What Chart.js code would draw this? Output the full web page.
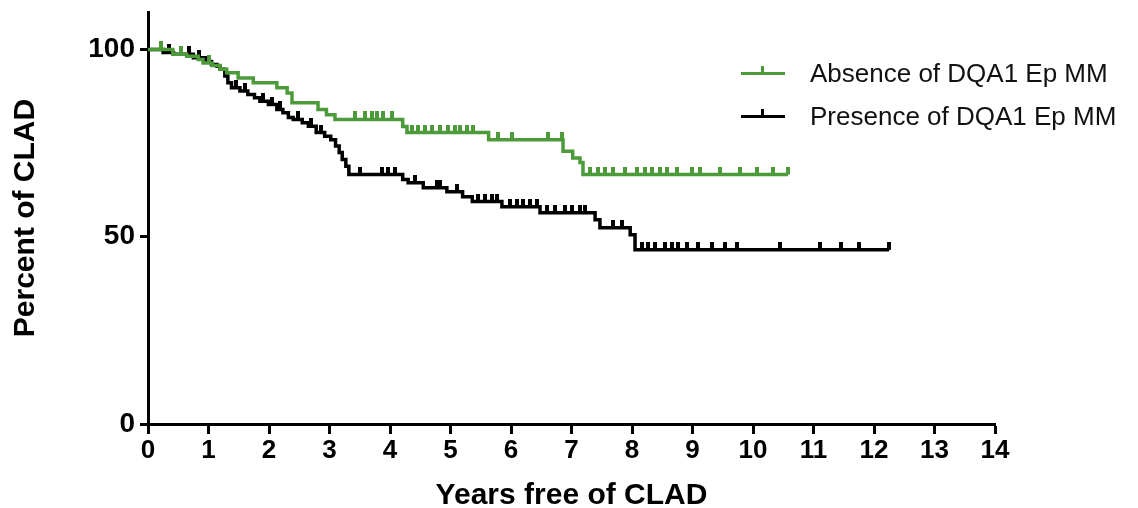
<!DOCTYPE html>
<html><head><meta charset="utf-8">
<script src="https://cdn.jsdelivr.net/npm/chart.js@4.4.1/dist/chart.umd.min.js"></script>
<style>
html,body{margin:0;padding:0;background:#fff;}
#wrap{position:relative;width:1138px;height:508px;}
canvas{display:block;}
#legend{position:absolute;left:741px;top:52px;font-family:"Liberation Sans",Arial,sans-serif;font-size:26px;color:#111;}
.row{position:relative;height:43px;display:flex;align-items:center;white-space:nowrap;}
.sw{position:relative;width:44px;height:3px;margin-right:25px;}
.sw .tk{position:absolute;left:20px;top:-6px;width:3px;height:7px;}
</style></head>
<body><div id="wrap"><canvas id="c" width="1138" height="508"></canvas><div id="legend"></div></div>
<script>
// ---- data ----
const seriesNames = ["Absence of DQA1 Ep MM", "Presence of DQA1 Ep MM"];
const seriesColors = ["#4d9a3b", "#000000"];
const xTickLabels = [0,1,2,3,4,5,6,7,8,9,10,11,12,13,14];
const yTickLabels = [0,50,100];

const absTimes  = [0, 0.41, 0.64, 0.83, 0.91, 1.06, 1.19, 1.30, 1.49, 1.74, 2.13, 2.30, 2.38, 2.81, 2.95, 3.09, 4.21, 4.28, 5.63, 6.86, 7.02, 7.14, 7.19, 10.58];
const absValues = [100, 98.7, 98.2, 97.3, 96.4, 95.7, 94.7, 93.8, 92.4, 91.1, 89.8, 88.4, 85.8, 84.0, 82.6, 81.3, 79.4, 77.8, 75.9, 72.8, 71.0, 69.8, 66.6, 66.6];
const absCensor = [0.22, 0.55, 1.0, 3.42, 3.59, 3.70, 3.79, 3.88, 4.03, 4.36, 4.46, 4.58, 4.69, 4.83, 4.96, 5.07, 5.16, 5.27, 5.37, 5.79, 6.02, 6.61, 6.84, 7.31, 7.44, 7.55, 7.69, 7.88, 8.08, 8.21, 8.33, 8.46, 8.58, 8.74, 8.99, 9.12, 9.45, 9.79, 10.07, 10.33, 10.58];

const preTimes  = [0, 0.25, 0.42, 0.75, 0.95, 1.05, 1.14, 1.19, 1.27, 1.32, 1.38, 1.52, 1.65, 1.76, 1.85, 1.99, 2.13, 2.23, 2.32, 2.40, 2.55, 2.65, 2.78, 2.92, 3.02, 3.10, 3.16, 3.21, 3.27, 3.32, 4.21, 4.30, 4.55, 4.94, 5.20, 5.36, 5.85, 6.48, 7.39, 7.47, 7.97, 8.05, 12.25];
const preValues = [100, 99.2, 98.7, 97.8, 96.8, 96.0, 95.5, 94.7, 92.9, 91.1, 89.8, 88.9, 88.0, 87.1, 86.2, 85.3, 84.0, 83.1, 81.8, 81.3, 80.4, 79.5, 77.8, 76.8, 75.9, 74.2, 72.5, 70.6, 68.8, 66.6, 65.3, 64.4, 63.1, 62.0, 60.7, 59.4, 58.0, 56.4, 54.5, 52.4, 50.5, 46.5, 46.5];
const preCensor = [0.35, 0.55, 0.68, 0.85, 1.45, 1.60, 1.90, 2.05, 2.18, 2.48, 2.70, 2.86, 3.50, 3.87, 3.97, 4.08, 4.41, 4.78, 4.83, 5.10, 5.45, 5.57, 5.69, 5.77, 5.98, 6.10, 6.20, 6.31, 6.43, 6.60, 6.73, 6.89, 7.00, 7.14, 7.22, 7.69, 7.83, 8.17, 8.26, 8.38, 8.55, 8.66, 8.76, 8.91, 9.09, 9.32, 9.54, 9.74, 10.45, 11.10, 11.45, 11.75, 12.25];

// ---- helpers ----
function stepPoints(times, values){ return times.map((t,i)=>({x:t, y:values[i]})); }
function valueAt(times, values, t){ let v = values[0]; for(let i=0;i<times.length;i++){ if(times[i] <= t + 1e-9) v = values[i]; } return v; }
function censorPoints(cs, times, values){ return cs.map(t=>({x:t, y:valueAt(times, values, t)})); }
function tickImage(color){
  const c = document.createElement('canvas'); c.width = 4; c.height = 16;
  const g = c.getContext('2d'); g.fillStyle = color; g.fillRect(0,0,4,8); return c;
}

// legend (HTML)
const leg = document.getElementById('legend');
seriesNames.forEach((n,i)=>{
  const r = document.createElement('div'); r.className='row';
  const sw = document.createElement('div'); sw.className='sw'; sw.style.background = seriesColors[i];
  const tk = document.createElement('div'); tk.className='tk'; tk.style.background = seriesColors[i];
  sw.appendChild(tk); r.appendChild(sw);
  const s = document.createElement('span'); s.textContent = n; r.appendChild(s);
  leg.appendChild(r);
});

const FONT = '"Liberation Sans", Arial, sans-serif';
new Chart(document.getElementById('c'), {
  type: 'line',
  data: {
    datasets: [
      { label: seriesNames[0], data: stepPoints(absTimes, absValues), stepped: true, borderColor: seriesColors[0], borderWidth: 3.5, pointRadius: 0, fill: false },
      { label: seriesNames[0]+' censored', data: censorPoints(absCensor, absTimes, absValues), showLine: false, pointStyle: tickImage(seriesColors[0]), pointRadius: 4, borderColor: seriesColors[0], backgroundColor: seriesColors[0] },
      { label: seriesNames[1], data: stepPoints(preTimes, preValues), stepped: true, borderColor: seriesColors[1], borderWidth: 3.5, pointRadius: 0, fill: false },
      { label: seriesNames[1]+' censored', data: censorPoints(preCensor, preTimes, preValues), showLine: false, pointStyle: tickImage(seriesColors[1]), pointRadius: 4, borderColor: seriesColors[1], backgroundColor: seriesColors[1] }
    ]
  },
  options: {
    responsive: false, animation: false, events: [],
    layout: { padding: { left: 0, top: 12, right: 143, bottom: 0 } },
    plugins: { legend: { display: false }, tooltip: { enabled: false } },
    scales: {
      x: {
        type: 'linear', min: 0, max: 14,
        afterFit: s => { s.height = 84; s.paddingLeft = 0; s.paddingRight = 0; },
        afterBuildTicks: s => { s.ticks = xTickLabels.map(v=>({value:v})); },
        ticks: { color: '#000', font: { family: FONT, size: 26, weight: 'bold' }, padding: 1, maxRotation: 0, autoSkip: false },
        grid: { display: true, drawOnChartArea: false, drawTicks: true, tickLength: 10, tickWidth: 3, tickColor: '#000' },
        border: { display: true, color: '#000', width: 3 },
        title: { display: true, text: 'Years free of CLAD', color: '#000', font: { family: FONT, size: 30, weight: 'bold', lineHeight: 0.8 }, padding: { top: 0, bottom: 0 } }
      },
      y: {
        type: 'linear', min: 0, max: 110,
        afterFit: s => { s.width = 148; s.paddingTop = 0; s.paddingBottom = 0; },
        afterBuildTicks: s => { s.ticks = yTickLabels.map(v=>({value:v})); },
        ticks: { color: '#000', font: { family: FONT, size: 28, weight: 'bold' }, padding: 5 },
        grid: { display: true, drawOnChartArea: false, drawTicks: true, tickLength: 8, tickWidth: 3, tickColor: '#000' },
        border: { display: true, color: '#000', width: 3 },
        title: { display: true, text: 'Percent of CLAD', color: '#000', font: { family: FONT, size: 30, weight: 'bold', lineHeight: 1 }, padding: { top: 11, bottom: 0 } }
      }
    }
  }
});
</script>
</body></html>
